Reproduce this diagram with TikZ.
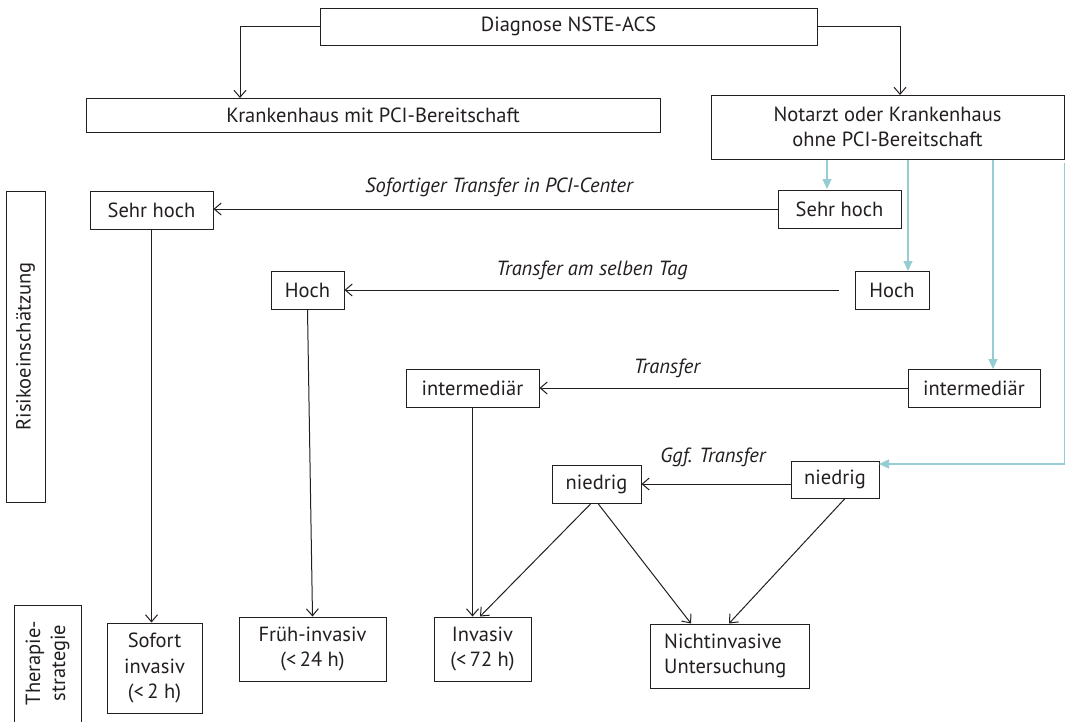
\documentclass[tikz,border=0pt]{standalone}
\usepackage{fontspec}
\setmainfont{PT Sans}
\usetikzlibrary{arrows.meta,calc}
\definecolor{ink}{HTML}{231F20}
\definecolor{teal}{HTML}{96CDD2}
\begin{document}
\begin{tikzpicture}[x=1pt,y=-1pt,
  every node/.style={font=\fontsize{20.5}{25.5}\selectfont, text=ink},
  box/.style={draw=ink, line width=1pt, inner sep=0pt, align=center},
  lbl/.style={font=\fontsize{20.5}{25.5}\selectfont\itshape, inner sep=0pt},
  arr/.style={draw=ink, line width=1pt, -{Straight Barb[length=7pt,width=12pt,line width=1pt]}},
  tarr/.style={draw=teal, line width=1.2pt, -{Triangle[length=10pt,width=9pt]}}]
\useasboundingbox (0,0) rectangle (1070,721);
% top
\node[box, minimum width=497pt, minimum height=37pt] (diag) at (568.5,26.5) {Diagnose NSTE-ACS};
\node[box, minimum width=574pt, minimum height=34pt] (kmit) at (373,115) {Krankenhaus mit PCI-Bereitschaft};
\node[box, minimum width=353pt, minimum height=64pt] (notarzt) at (887.5,127) {Notarzt oder Krankenhaus\\ohne PCI-Bereitschaft};
% right risk boxes
\node[box, minimum width=123pt, minimum height=38pt] (shR) at (839.5,209) {Sehr hoch};
\node[box, minimum width=74pt, minimum height=38pt] (hR) at (892,290) {Hoch};
\node[box, minimum width=132pt, minimum height=38pt] (iR) at (974,388) {intermediär};
\node[box, minimum width=88pt, minimum height=37pt] (nR) at (835,479.5) {niedrig};
% left risk boxes
\node[box, minimum width=123pt, minimum height=38pt] (shL) at (151.5,210) {Sehr hoch};
\node[box, minimum width=73pt, minimum height=38pt] (hL) at (307.5,290) {Hoch};
\node[box, minimum width=133pt, minimum height=38pt] (iL) at (472.5,388) {intermediär};
\node[box, minimum width=89pt, minimum height=38pt] (nL) at (596.5,484) {niedrig};
% therapy boxes
\node[box, minimum width=95pt, minimum height=90pt] (sofort) at (154.5,668) {Sofort\\invasiv\\(<\,2 h)};
\node[box, minimum width=147pt, minimum height=64pt] (frueh) at (312.5,649) {Früh-invasiv\\(<\,24 h)};
\node[box, minimum width=97pt, minimum height=64pt] (invasiv) at (482.5,649) {Invasiv\\(<\,72 h)};
\node[box, minimum width=159pt, minimum height=64pt] (nicht) at (729.5,656) {};
\node[align=left, anchor=west, inner sep=0pt] (nichtT) at (664,656) {Nichtinvasive\\Untersuchung};
% side boxes
\node[box, minimum width=39pt, minimum height=311pt] (risiko) at (25.5,346.5) {};
\node[rotate=90] (risikoT) at (25.5,346.5) {Risikoeinschätzung};
\draw[draw=ink, line width=1pt] (14,725) -- (14,605) -- (81,605) -- (81,725);
\node[rotate=90, align=center, font=\fontsize{20.5}{25}\selectfont] (therT) at (47.5,663) {Therapie-\\strategie};
% labels
\node[lbl] (l1) at (499,187) {Sofortiger Transfer in PCI-Center};
\node[lbl] (l2) at (592,270) {Transfer am selben Tag};
\node[lbl] (l3) at (667,368) {Transfer};
\node[lbl] (l4) at (713,457) {Ggf. Transfer};
% coordinates
\coordinate (k1) at (240,98);
\coordinate (n1) at (900,95);
\coordinate (t1) at (827,189);
\coordinate (t2) at (908,271);
\coordinate (t3) at (993,369);
\coordinate (t4) at (879,464);
\coordinate (h0) at (839,290);
% connectors
\draw[arr] (diag.west) -| (k1);
\draw[arr] (diag.east) -| (n1);
\draw[tarr] (t1 |- notarzt.south) -- (t1);
\draw[tarr] (t2 |- notarzt.south) -- (t2);
\draw[tarr] (t3 |- notarzt.south) -- (t3);
\draw[tarr] ([yshift=-3pt]notarzt.south east) |- (t4);
\draw[arr] (shR.west |- 0,209) -- (shL.east |- 0,209);
\draw[arr] (h0) -- (hL.east);
\draw[arr] (iR.west) -- (iL.east);
\draw[arr] (nR.west |- nL.east) -- (nL.east);
\draw[arr] (shL.south) -- (shL.south |- sofort.north);
\draw[arr] (hL.south) -- (frueh.north);
\draw[arr] (iL.south) -- (iL.south |- invasiv.north);
\draw[arr] ([xshift=-5.5pt]nL.south) -- ([xshift=-2.5pt]invasiv.north);
\draw[arr] ([xshift=1.5pt]nL.south) -- ([xshift=-38.5pt]nicht.north);
\draw[arr] ([xshift=10pt]nR.south) -- ([xshift=-0.5pt]nicht.north);
\end{tikzpicture}
\end{document}
